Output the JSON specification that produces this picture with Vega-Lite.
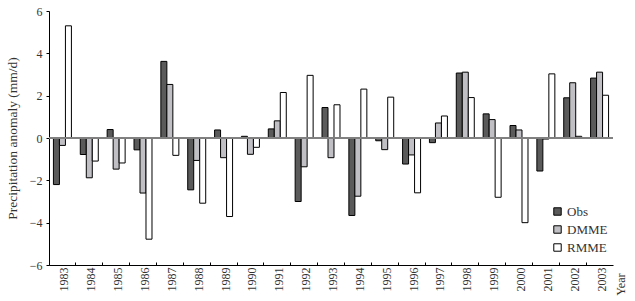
{
  "$schema": "https://vega.github.io/schema/vega-lite/v6.json",
  "width": 564,
  "height": 254,
  "autosize": "none",
  "padding": {"left": 49, "top": 11, "right": 22, "bottom": 36},
  "background": "white",
  "config": {
    "view": {"stroke": null},
    "font": "Liberation Serif",
    "axis": {"labelFont": "Liberation Serif", "titleFont": "Liberation Serif", "labelColor": "#333333", "titleColor": "#333333", "domainColor": "black", "tickColor": "black", "grid": false, "titleFontWeight": "normal"},
    "legend": {"labelFont": "Liberation Serif", "labelColor": "#333333"}
  },
  "data": {
    "values": [
      {"year": "1983", "series": "Obs", "value": -2.2},
      {"year": "1983", "series": "DMME", "value": -0.35},
      {"year": "1983", "series": "RMME", "value": 5.3},
      {"year": "1984", "series": "Obs", "value": -0.78},
      {"year": "1984", "series": "DMME", "value": -1.88},
      {"year": "1984", "series": "RMME", "value": -1.09},
      {"year": "1985", "series": "Obs", "value": 0.4},
      {"year": "1985", "series": "DMME", "value": -1.47},
      {"year": "1985", "series": "RMME", "value": -1.18},
      {"year": "1986", "series": "Obs", "value": -0.56},
      {"year": "1986", "series": "DMME", "value": -2.6},
      {"year": "1986", "series": "RMME", "value": -4.78},
      {"year": "1987", "series": "Obs", "value": 3.62},
      {"year": "1987", "series": "DMME", "value": 2.53},
      {"year": "1987", "series": "RMME", "value": -0.82},
      {"year": "1988", "series": "Obs", "value": -2.45},
      {"year": "1988", "series": "DMME", "value": -1.06},
      {"year": "1988", "series": "RMME", "value": -3.08},
      {"year": "1989", "series": "Obs", "value": 0.38},
      {"year": "1989", "series": "DMME", "value": -0.93},
      {"year": "1989", "series": "RMME", "value": -3.71},
      {"year": "1990", "series": "Obs", "value": 0.08},
      {"year": "1990", "series": "DMME", "value": -0.77},
      {"year": "1990", "series": "RMME", "value": -0.44},
      {"year": "1991", "series": "Obs", "value": 0.43},
      {"year": "1991", "series": "DMME", "value": 0.81},
      {"year": "1991", "series": "RMME", "value": 2.15},
      {"year": "1992", "series": "Obs", "value": -3.0},
      {"year": "1992", "series": "DMME", "value": -1.36},
      {"year": "1992", "series": "RMME", "value": 2.96},
      {"year": "1993", "series": "Obs", "value": 1.44},
      {"year": "1993", "series": "DMME", "value": -0.93},
      {"year": "1993", "series": "RMME", "value": 1.57},
      {"year": "1994", "series": "Obs", "value": -3.66},
      {"year": "1994", "series": "DMME", "value": -2.75},
      {"year": "1994", "series": "RMME", "value": 2.31},
      {"year": "1995", "series": "Obs", "value": -0.13},
      {"year": "1995", "series": "DMME", "value": -0.55},
      {"year": "1995", "series": "RMME", "value": 1.93},
      {"year": "1996", "series": "Obs", "value": -1.23},
      {"year": "1996", "series": "DMME", "value": -0.8},
      {"year": "1996", "series": "RMME", "value": -2.59},
      {"year": "1997", "series": "Obs", "value": -0.22},
      {"year": "1997", "series": "DMME", "value": 0.71},
      {"year": "1997", "series": "RMME", "value": 1.04},
      {"year": "1998", "series": "Obs", "value": 3.07},
      {"year": "1998", "series": "DMME", "value": 3.11},
      {"year": "1998", "series": "RMME", "value": 1.91},
      {"year": "1999", "series": "Obs", "value": 1.14},
      {"year": "1999", "series": "DMME", "value": 0.87},
      {"year": "1999", "series": "RMME", "value": -2.8},
      {"year": "2000", "series": "Obs", "value": 0.59},
      {"year": "2000", "series": "DMME", "value": 0.38},
      {"year": "2000", "series": "RMME", "value": -4.0},
      {"year": "2001", "series": "Obs", "value": -1.56},
      {"year": "2001", "series": "DMME", "value": -0.05},
      {"year": "2001", "series": "RMME", "value": 3.03},
      {"year": "2002", "series": "Obs", "value": 1.9},
      {"year": "2002", "series": "DMME", "value": 2.61},
      {"year": "2002", "series": "RMME", "value": 0.08},
      {"year": "2003", "series": "Obs", "value": 2.83},
      {"year": "2003", "series": "DMME", "value": 3.11},
      {"year": "2003", "series": "RMME", "value": 2.02}
    ]
  },
  "layer": [
    {
      "mark": {"type": "bar", "stroke": "black", "strokeWidth": 1},
      "encoding": {
        "x": {
          "field": "year", "type": "ordinal",
          "scale": {"paddingInner": 0, "paddingOuter": 0},
          "axis": {
            "title": "Year", "titleAngle": 270, "titleAlign": "right", "titleBaseline": "middle",
            "titleX": 571, "titleY": 8, "titleFontSize": 12,
            "labelAngle": 270, "labelFontSize": 12, "labelPadding": 5,
            "bandPosition": 0, "tickSize": -3, "labelOffset": 2
          }
        },
        "xOffset": {
          "field": "series", "type": "nominal",
          "scale": {"domain": ["Obs", "DMME", "RMME"], "paddingInner": 0, "paddingOuter": 0.74}
        },
        "y": {
          "field": "value", "type": "quantitative",
          "scale": {"domain": [-6, 6], "nice": false},
          "axis": {
            "title": "Precipitation anomaly (mm/d)", "titleFontSize": 13.5,
            "titleX": -37, "titleBaseline": "middle",
            "values": [-6, -4, -2, 0, 2, 4, 6], "labelFontSize": 12, "tickSize": 3, "labelPadding": 4
          }
        },
        "fill": {
          "field": "series", "type": "nominal",
          "scale": {"domain": ["Obs", "DMME", "RMME"], "range": ["#5a5a5a", "#c0c0c4", "#ffffff"]},
          "legend": {
            "title": null, "orient": "none", "legendX": 502, "legendY": 194,
            "symbolType": "square", "symbolSize": 55, "symbolStrokeColor": "black", "symbolStrokeWidth": 1,
            "labelFontSize": 13, "rowPadding": 4, "labelOffset": 3
          }
        }
      }
    },
    {
      "mark": {"type": "rule", "color": "#808080", "strokeWidth": 1},
      "encoding": {"y": {"datum": 0}}
    }
  ]
}
